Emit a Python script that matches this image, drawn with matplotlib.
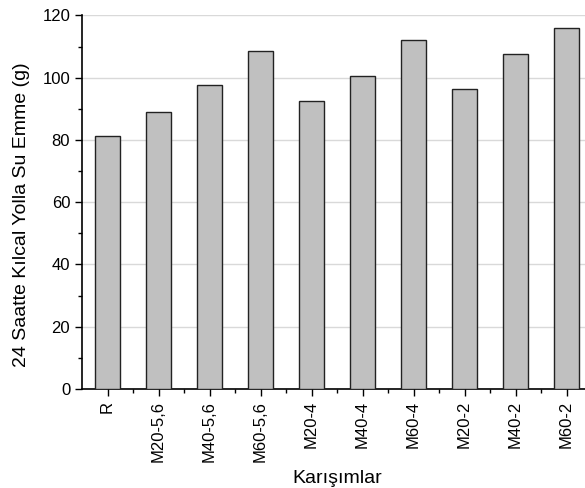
import matplotlib
matplotlib.use("Agg")
import matplotlib.pyplot as plt
import numpy as np
from matplotlib.ticker import MultipleLocator

plt.rcParams["font.family"] = ["Liberation Sans", "DejaVu Sans"]

mixes = ["R", "M20-5,6", "M40-5,6", "M60-5,6", "M20-4", "M40-4", "M60-4",
         "M20-2", "M40-2", "M60-2"]
absorption = [81.2, 89.1, 97.8, 108.7, 92.5, 100.6, 112.2, 96.4, 107.6, 116.1]

fig = plt.figure(figsize=(5.85, 4.88), dpi=100)
ax = fig.add_axes([0.1402, 0.2029, 0.8718, 0.7654])

x = np.arange(len(mixes))
ax.bar(x, absorption, width=0.5, color="#c0c0c0", edgecolor="#222222",
       linewidth=1.0, zorder=3)

ax.set_xlim(-0.5, 9.5)
ax.set_ylim(0, 120)
ax.yaxis.set_major_locator(MultipleLocator(20))
ax.yaxis.set_minor_locator(MultipleLocator(10))
ax.set_xticks(x)
ax.set_xticklabels(mixes, rotation=90)
ax.set_xticks(x[:-1] + 0.5, minor=True)
ax.tick_params(axis="both", which="major", direction="out", length=5, width=1,
               labelsize=12, pad=3.5)
ax.tick_params(axis="both", which="minor", direction="out", length=3, width=1)
ax.grid(axis="y", which="major", color="#d9d9d9", linewidth=1, zorder=0)

for side in ("top", "right"):
    ax.spines[side].set_visible(False)
for side in ("left", "bottom"):
    ax.spines[side].set_linewidth(1.2)

ax.set_xlabel("Karışımlar", fontsize=14, labelpad=6)
ax.set_ylabel("24 Saatte Kılcal Yolla Su Emme (g)", fontsize=14)
ax.yaxis.set_label_coords(-0.102, 0.467)

fig.savefig("out.png", dpi=100)
